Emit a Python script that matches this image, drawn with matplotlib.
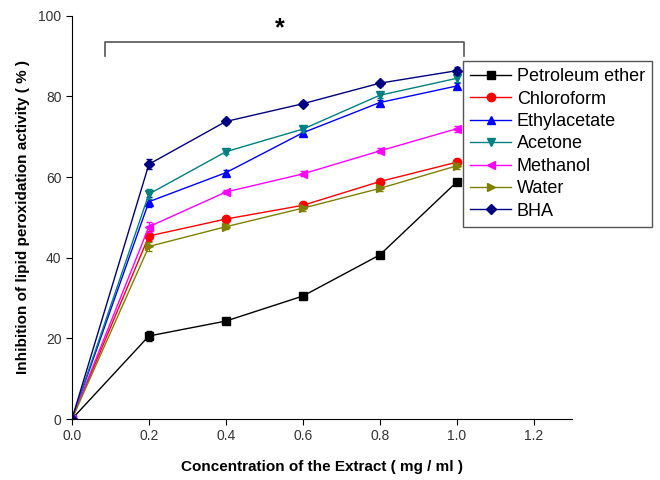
import matplotlib.pyplot as plt

plt.rcParams['font.family'] = ['Liberation Sans', 'DejaVu Sans']

# concentration (mg/ml)
conc = [0.0, 0.2, 0.4, 0.6, 0.8, 1.0]

petroleum = [0, 20.6, 24.3, 30.5, 40.7, 58.8]
chloroform = [0, 45.4, 49.6, 53.0, 58.9, 63.7]
ethylacetate = [0, 53.9, 61.1, 71.0, 78.5, 82.6]
acetone = [0, 55.8, 66.3, 71.9, 80.3, 84.5]
methanol = [0, 47.7, 56.3, 60.8, 66.5, 72.0]
water = [0, 42.8, 47.7, 52.3, 57.2, 62.8]
bha = [0, 63.2, 73.8, 78.2, 83.3, 86.4]
err = [0, 1.2, 0.6, 0.6, 0.6, 0.8]

series = [
    ('Petroleum ether', petroleum, 'black', 's'),
    ('Chloroform', chloroform, 'red', 'o'),
    ('Ethylacetate', ethylacetate, 'blue', '^'),
    ('Acetone', acetone, '#008080', 'v'),
    ('Methanol', methanol, 'magenta', '<'),
    ('Water', water, '#808000', '>'),
    ('BHA', bha, '#000080', 'D'),
]

fig = plt.figure(figsize=(6.6, 4.8), dpi=100)
ax = fig.add_axes([0.109, 0.127, 0.758, 0.84])

for name, vals, col, mk in series:
    ms = 6 if mk != 'D' else 5.5
    ax.errorbar(conc, vals, yerr=err, color=col, fmt='none', elinewidth=0.8, capsize=2)
    ax.plot(conc, vals, color=col, marker=mk, markersize=ms, lw=1, label=name)

# significance bracket
ax.plot([0.085, 0.085, 1.02, 1.02], [90, 93.4, 93.4, 90], color='#555555', lw=1.2)
ax.text(0.54, 94, '*', ha='center', va='bottom', fontsize=18, fontweight='bold')

ax.set_xlim(0, 1.3)
ax.set_ylim(0, 100)
ax.set_xticks([0.0, 0.2, 0.4, 0.6, 0.8, 1.0, 1.2])
ax.set_yticks([0, 20, 40, 60, 80, 100])
ax.set_xticklabels(['0.0', '0.2', '0.4', '0.6', '0.8', '1.0', '1.2'])
ax.tick_params(labelsize=10, labelcolor='#333333', direction='out', length=4)
ax.spines['top'].set_visible(False)
ax.spines['right'].set_visible(False)

ax.set_xlabel('Concentration of the Extract ( mg / ml )', fontweight='bold', fontsize=11, labelpad=12)
ax.set_ylabel('Inhibition of lipid peroxidation activity ( % )', fontweight='bold', fontsize=11, labelpad=6)

fig.legend(loc='upper right', bbox_to_anchor=(0.988, 0.873), borderaxespad=0, fontsize=13,
           fancybox=False, edgecolor='#555555', framealpha=1,
           handlelength=2.3, handletextpad=0.3, borderpad=0.4, labelspacing=0.3)

fig.savefig('out.png', dpi=100)
